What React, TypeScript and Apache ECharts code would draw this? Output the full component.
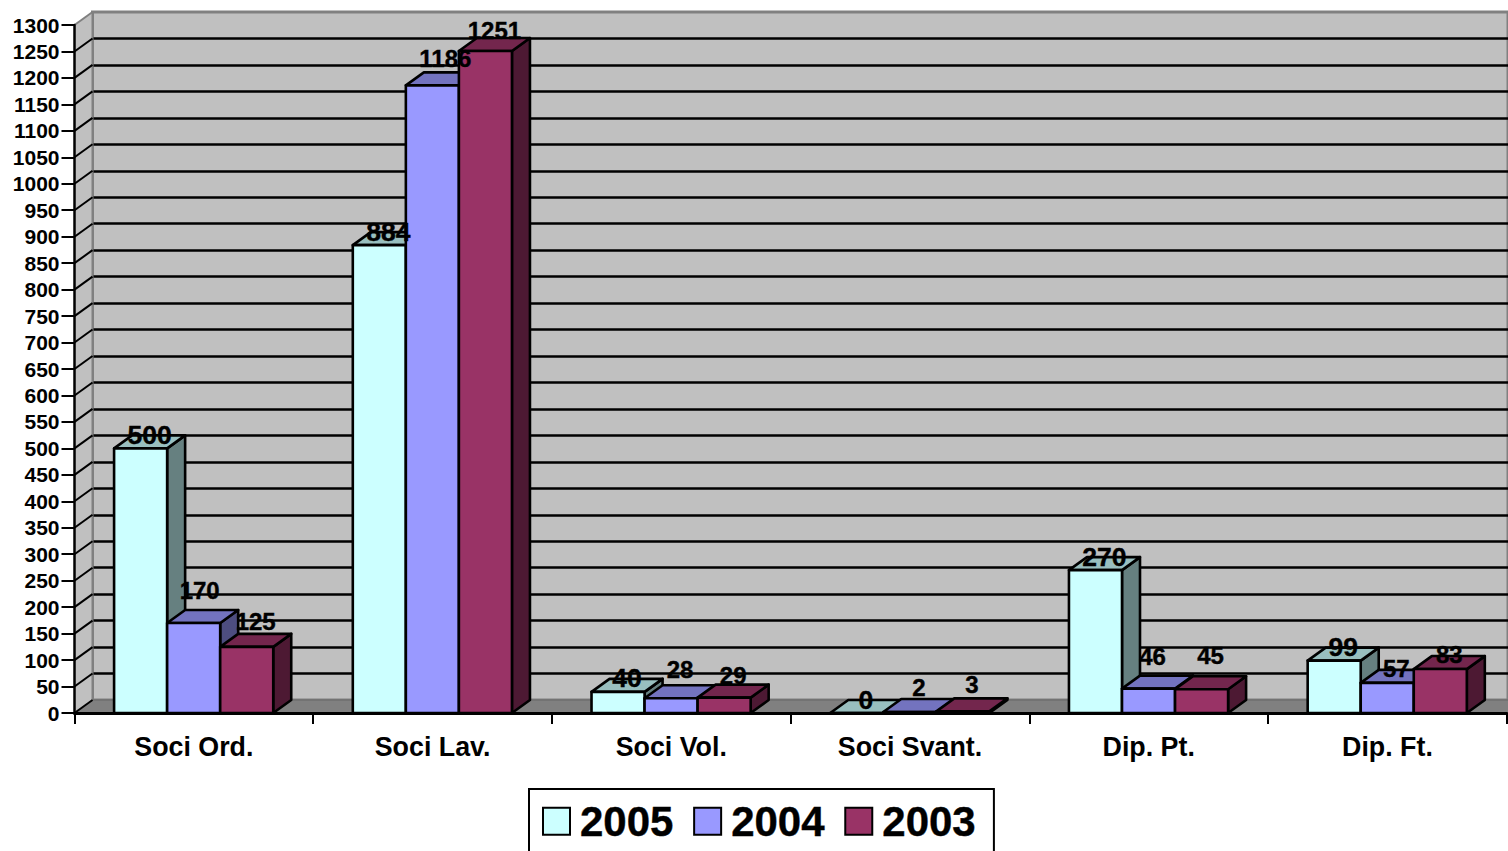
import React, { useEffect, useRef } from "react";
import * as echarts from "echarts";

const categories = ["Soci Ord.", "Soci Lav.", "Soci Vol.", "Soci Svant.", "Dip. Pt.", "Dip. Ft."];
const seriesNames = ["2005", "2004", "2003"];
const values2005 = [500, 884, 40, 0, 270, 99];
const values2004 = [170, 1186, 28, 2, 46, 57];
const values2003 = [125, 1251, 29, 3, 45, 83];
const allValues = [values2005, values2004, values2003];

const yTicks: number[] = [];
for (let v = 0; v <= 1300; v += 50) yTicks.push(v);

// Presentation
const FONT = '"Liberation Sans", Arial, sans-serif';
const DX = 18;
const DY = -13;
const fronts = ["#CCFFFF", "#9999FF", "#993366"];
const tops = ["#99BFBF", "#7373BF", "#73264D"];
const sides = ["#668080", "#4D4D80", "#4D1933"];
const labelSizes = [26.5, 24, 24];
const labelNudgeX = [
  [0, 0, 0, 0, 0, 0],
  [-3, 4, 0, 0, -5, 0],
  [0, 0, 0, 0, 0, 0],
];
const labelNudgeY = [
  [0, 0, -1, 0, 0, -1],
  [-20, -14, -16, -11, -19, -1],
  [-12, -7, -9, -14, -21, -2],
];

function barItem(s: number) {
  return (params: any, api: any) => {
    const cat = api.value(0);
    const val = api.value(1);
    const c0 = api.coord([cat, 0]);
    const c1 = api.coord([cat, val]);
    const w = api.size([1, 0])[0] / 4.5;
    const x0 = c0[0] - 1.5 * w + s * w - 0.2;
    const x1 = x0 + w;
    const yb = c0[1];
    const yt = c1[1];
    const style = (fill: string) => ({ fill, stroke: "#000", lineWidth: 2.6, lineJoin: "round" });
    const poly = (points: number[][], fill: string) => ({ type: "polygon", shape: { points }, style: style(fill) });
    return {
      type: "group",
      children: [
        poly([[x1, yb], [x1 + DX, yb + DY], [x1 + DX, yt + DY], [x1, yt]], sides[s]),
        poly([[x0, yt], [x0 + DX, yt + DY], [x1 + DX, yt + DY], [x1, yt]], tops[s]),
        poly([[x0, yb], [x1, yb], [x1, yt], [x0, yt]], fronts[s]),
      ],
    };
  };
}

function labelItem(s: number) {
  return (params: any, api: any) => {
    const cat = api.value(0);
    const val = api.value(1);
    const c = api.coord([cat, val]);
    const w = api.size([1, 0])[0] / 4.5;
    const cx = c[0] - w + s * w + DX / 2 - 0.2;
    return {
      type: "text",
      style: {
        x: cx + labelNudgeX[s][cat],
        y: c[1] + DY + labelNudgeY[s][cat],
        text: String(val),
        fontFamily: FONT,
        fontWeight: "bold",
        fontSize: labelSizes[s],
        fill: "#000",
        stroke: "#000",
        lineWidth: 0.4,
        align: "center",
        verticalAlign: "middle",
      },
    };
  };
}

function wallItem(params: any, api: any) {
  const v = api.value(0);
  const p = api.coord([0, v]);
  const left = p[0] - api.size([1, 0])[0] / 2;
  const y = p[1];
  return {
    type: "line",
    shape: { x1: left, y1: y, x2: left + DX, y2: y + DY },
    style: { stroke: v === 1300 ? "#808080" : "#000", lineWidth: 2 },
  };
}

function shellItem(params: any, api: any) {
  const o = api.coord([0, 0]);
  const t = api.coord([0, 1300]);
  const size = api.size([1, 0])[0];
  const left = o[0] - size / 2;
  const right = left + size * categories.length;
  const yb = o[1];
  const yt = t[1];
  return {
    type: "group",
    children: [
      {
        type: "polygon",
        shape: { points: [[left, yb], [left + DX, yb + DY], [left + DX, yt + DY], [left, yt]] },
        style: { fill: "#C0C0C0" },
      },
      {
        type: "line",
        shape: { x1: left + DX, y1: yb + DY, x2: left + DX, y2: yt + DY },
        style: { stroke: "#808080", lineWidth: 2 },
      },
      {
        type: "polygon",
        shape: { points: [[left, yb], [left + DX, yb + DY], [right + DX, yb + DY], [right, yb]] },
        style: { fill: "#808080", stroke: "#666666", lineWidth: 1 },
      },
    ],
  };
}

export default function App() {
  const ref = useRef<HTMLDivElement>(null);
  useEffect(() => {
    document.documentElement.style.overflow = "hidden";
    document.body.style.margin = "0";
    const chart = echarts.init(ref.current!, undefined, { renderer: "svg" });
    const barSeries = allValues.map((vals, s) => ({
      type: "custom",
      name: seriesNames[s],
      xAxisIndex: 0,
      yAxisIndex: 0,
      z: 3,
      clip: false,
      encode: { x: 0, y: 1 },
      data: vals.map((v, i) => [i, v]),
      renderItem: barItem(s),
      itemStyle: { color: fronts[s] },
    }));
    const labelSeries = allValues.map((vals, s) => ({
      type: "custom",
      xAxisIndex: 0,
      yAxisIndex: 0,
      z: 6,
      clip: false,
      silent: true,
      encode: { x: 0, y: 1 },
      data: vals.map((v, i) => [i, v]),
      renderItem: labelItem(s),
    }));
    chart.setOption({
      animation: false,
      backgroundColor: "#fff",
      grid: [
        { left: 74.5, top: 25, width: 1432.3, height: 688, show: false, containLabel: false },
        {
          left: 74.5 + DX,
          top: 25 + DY,
          width: 1433.5,
          height: 688,
          show: true,
          backgroundColor: "#C0C0C0",
          borderColor: "#808080",
          borderWidth: 3,
          z: 0,
        },
      ],
      xAxis: [
        {
          type: "category",
          gridIndex: 0,
          data: categories,
          z: 4,
          axisLine: { lineStyle: { color: "#000", width: 3 } },
          axisTick: { show: true, alignWithLabel: false, length: 11, lineStyle: { color: "#000", width: 2 } },
          axisLabel: {
            interval: 0,
            color: "#000",
            fontFamily: FONT,
            fontWeight: "bold",
            fontSize: 26.8,
            margin: 20,
          },
          splitLine: { show: false },
        },
        { type: "value", gridIndex: 1, min: 0, max: 1, show: false },
      ],
      yAxis: [
        {
          type: "value",
          gridIndex: 0,
          min: 0,
          max: 1300,
          interval: 50,
          z: 4,
          axisLine: { show: true, lineStyle: { color: "#000", width: 2.5 } },
          axisTick: { show: true, length: 13, lineStyle: { color: "#000", width: 2 } },
          axisLabel: {
            color: "#000",
            fontFamily: FONT,
            fontWeight: "bold",
            fontSize: 21,
            margin: 15,
            hideOverlap: false,
            formatter: (v: number) => String(v),
          },
          splitLine: { show: false },
        },
        {
          type: "value",
          gridIndex: 1,
          min: 0,
          max: 1300,
          interval: 50,
          axisLine: { show: false },
          axisTick: { show: false },
          axisLabel: { show: false },
          splitLine: {
            show: true,
            showMinLine: false,
            showMaxLine: false,
            lineStyle: { color: "#000", width: 2.5 },
          },
        },
      ],
      legend: {
        left: 529,
        top: 789,
        orient: "horizontal",
        backgroundColor: "#fff",
        borderColor: "#000",
        borderWidth: 2,
        borderRadius: 0,
        padding: [11, 18, 40, 13],
        itemWidth: 27,
        itemHeight: 27,
        itemGap: 19.5,
        icon: "rect",
        selectedMode: false,
        textStyle: {
          color: "#000",
          fontFamily: FONT,
          fontWeight: "bold",
          fontSize: 42,
          textBorderColor: "#000",
          textBorderWidth: 0.4,
          padding: [0, 0, 0, 5],
        },
        data: seriesNames.map((name, s) => ({
          name,
          icon: "rect",
          itemStyle: { color: fronts[s], borderColor: "#000", borderWidth: 2 },
        })),
      },
      series: [
        {
          type: "custom",
          xAxisIndex: 0,
          yAxisIndex: 0,
          z: 1,
          clip: false,
          silent: true,
          encode: { x: 0, y: 1 },
          data: [[0, 0]],
          renderItem: shellItem,
        },
        {
          type: "custom",
          xAxisIndex: 0,
          yAxisIndex: 0,
          z: 2,
          clip: false,
          silent: true,
          encode: { y: 0 },
          data: yTicks.map((v) => [v]),
          renderItem: wallItem,
        },
        ...barSeries,
        ...labelSeries,
      ],
    });
    return () => chart.dispose();
  }, []);
  return (
    <div
      ref={ref}
      style={{ position: "absolute", left: 0, top: 0, width: 1508, height: 851, overflow: "hidden" }}
    />
  );
}
